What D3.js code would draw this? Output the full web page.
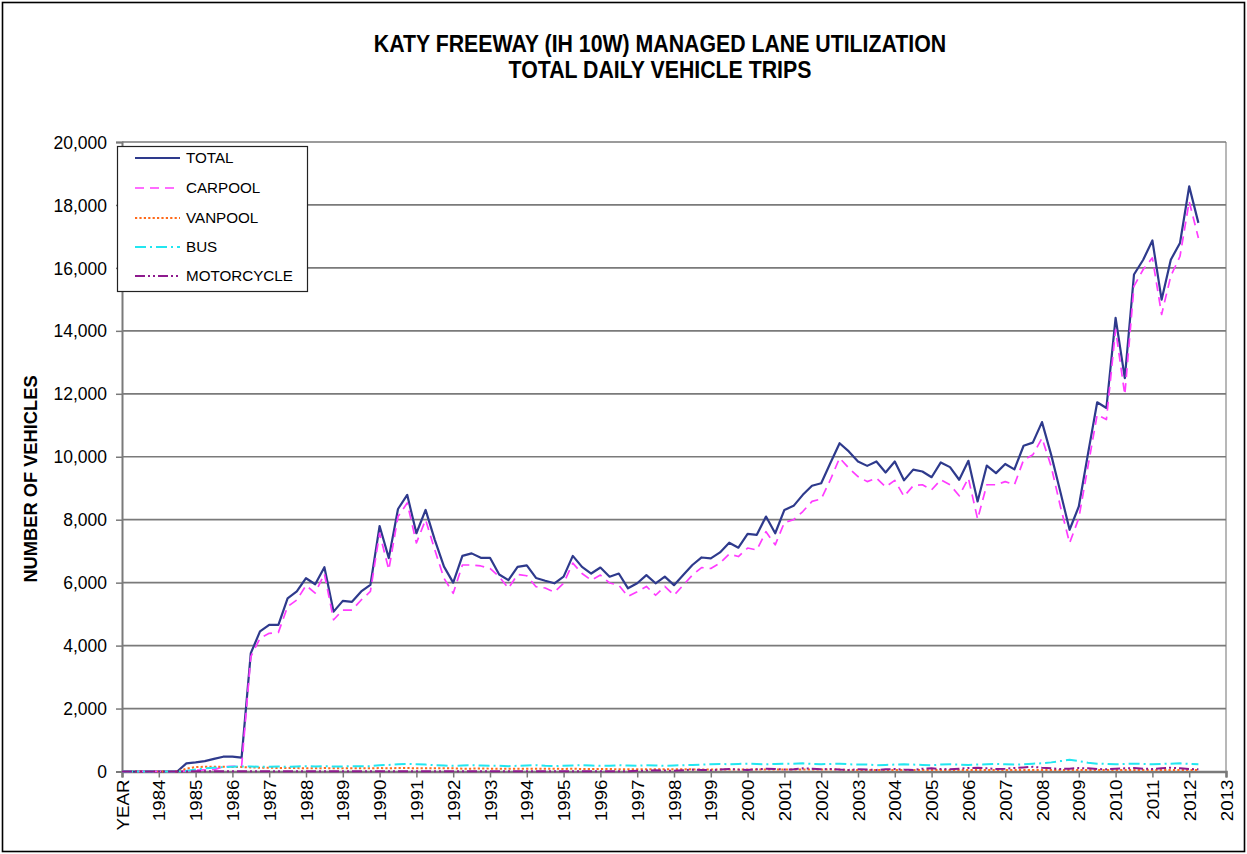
<!DOCTYPE html>
<html><head><meta charset="utf-8">
<script src="https://cdn.jsdelivr.net/npm/d3@7"></script>
<style>body{margin:0;background:#fff}svg{display:block}text{font-family:Arial,"Liberation Sans",sans-serif}</style>
</head><body>
<script>
const yearLabels = ["YEAR","1984","1985","1986","1987","1988","1989","1990","1991","1992","1993","1994","1995","1996","1997","1998","1999","2000","2001","2002","2003","2004","2005","2006","2007","2008","2009","2010","2011","2012","2013"];
const quartersPerLabel = 4;
const yTicks = [0,2000,4000,6000,8000,10000,12000,14000,16000,18000,20000];

const total = [0,0,0,0,0,0,0,260,290,330,400,470,470,440,
3760,4450,4660,4660,5500,5720,6140,5950,6490,5080,5420,5390,5720,5930,
7800,6780,8340,8790,7570,8310,7360,6510,6000,6850,6930,6790,6790,
6260,6080,6500,6550,6150,6060,5980,6190,6850,6500,6290,6480,6190,6290,5820,5980,6240,5980,6190,5920,
6240,6560,6800,6770,6960,7270,7110,7550,7520,8100,7570,8310,8440,8790,9080,9160,9800,10430,10170,9850,
9710,9850,9500,9850,9250,9590,9530,9350,9820,9670,9270,9870,8580,9720,9480,9770,9600,10350,10450,11100,
10060,8880,7680,8420,10100,11730,11550,14410,12500,15790,16260,16870,14990,16260,16790,18590,17430];

const carpool = [0,0,0,0,0,0,0,20,40,50,60,150,160,160,
3650,4230,4390,4420,5240,5450,5910,5670,6280,4820,5130,5130,5450,5720,
7570,6410,8100,8530,7260,8000,7040,6140,5660,6560,6560,6530,6450,
6190,5820,6260,6220,5870,5830,5700,5980,6620,6290,6080,6240,5990,5920,5560,5710,5880,5600,5880,5600,
5920,6240,6480,6450,6620,6910,6830,7100,7040,7620,7200,7910,8000,8260,8580,8660,9270,9960,9640,9370,
9210,9320,9040,9250,8740,9080,9110,8950,9270,9110,8760,9320,8020,9110,9110,9210,9110,9900,10060,10590,
9690,8420,7260,8050,9700,11340,11180,14040,11970,15420,15950,16320,14520,15740,16370,18110,16950];

const vanpool = [0,0,0,0,0,0,0,90,140,150,150,150,140,140,
130,120,120,110,110,110,100,100,110,100,100,100,100,100,
110,100,110,110,100,100,100,100,100,90,90,100,90,
90,90,90,90,90,90,90,80,90,80,80,80,80,70,70,70,70,70,70,70,
70,70,60,60,60,60,60,60,60,60,60,60,60,60,60,60,60,60,50,50,
50,50,50,50,50,50,50,50,50,50,50,50,50,50,50,50,50,50,50,50,
50,50,50,50,50,50,50,50,50,50,50,50,50,50,50,50,50];

const bus = [0,0,0,0,0,0,0,20,60,100,120,140,150,160,
160,150,150,160,150,160,170,160,170,160,160,170,170,170,
200,210,230,240,230,220,200,190,180,190,200,190,180,
180,170,180,190,200,180,170,180,190,200,190,180,180,200,190,180,200,190,180,190,
200,210,220,230,240,230,240,250,240,230,240,250,250,260,240,230,240,250,230,220,
220,200,210,220,230,220,210,200,220,230,220,210,220,230,240,230,220,230,250,260,
290,330,370,330,280,250,240,230,240,250,240,230,240,250,260,240,230];

const motorcycle = [0,0,0,0,0,0,0,
0,10,10,10,10,10,10,10,10,10,10,10,10,10,10,10,10,10,10,10,10,
10,10,10,10,10,10,10,10,10,10,10,10,10,10,10,10,10,10,10,10,10,10,10,10,10,10,10,10,
20,30,40,30,20,40,60,50,40,60,80,60,50,70,90,80,60,70,100,90,70,80,60,50,70,
60,50,70,80,60,50,90,100,80,70,90,110,120,100,80,90,110,130,150,120,100,80,90,110,100,80,70,90,100,110,90,80,100,120,100,80,70];

const seriesNames = ["TOTAL","CARPOOL","VANPOOL","BUS","MOTORCYCLE"];
const seriesData = [total, carpool, vanpool, bus, motorcycle];
const seriesColors = ["#2E3A8C","#FF3CFF","#FF6A1A","#22E6F0","#8E1A8E"];
const seriesDash = [null,"9,6","2.2,2.2","11,4,2,4","10,3,2,3,2,3"];
const seriesWidth = [2.2,1.7,2,2,2];

const W = 1247, H = 854;
const svg = d3.select("body").append("svg").attr("width",W).attr("height",H);
svg.append("rect").attr("x",2.5).attr("y",2.5).attr("width",W-5).attr("height",H-5)
  .attr("fill","#fff").attr("stroke","#000").attr("stroke-width",1.6);

const X0 = 122, X1 = 1226, Y0 = 142, Y1 = 771.5;
const nCat = (yearLabels.length-1)*quartersPerLabel;
const x = d3.scaleLinear().domain([0,nCat]).range([X0,X1]);
const y = d3.scaleLinear().domain([0,20000]).range([Y1,Y0]);

svg.append("rect").attr("x",X0).attr("y",Y0).attr("width",X1-X0).attr("height",Y1-Y0).attr("fill","#fff");
svg.append("line").attr("x1",X1).attr("x2",X1).attr("y1",Y0).attr("y2",Y1).attr("stroke","#b8b8b8").attr("stroke-width",2);

svg.append("g").selectAll("line").data(yTicks.filter(d=>d>0)).join("line")
  .attr("x1",X0).attr("x2",X1).attr("y1",d=>y(d)).attr("y2",d=>y(d))
  .attr("stroke","#7a7a7a").attr("stroke-width",1.7);

const yAxis = d3.axisLeft(y).tickValues(yTicks).tickSize(6).tickPadding(9).tickFormat(d3.format(","));
const gy = svg.append("g").attr("transform",`translate(${X0},0)`).call(yAxis);
gy.select(".domain").attr("stroke","#7a7a7a").attr("stroke-width",2);
gy.selectAll(".tick line").attr("stroke","#7a7a7a").attr("stroke-width",1.5);
gy.selectAll(".tick text").attr("font-size",17.5).attr("fill","#000").attr("dy","0.35em");

const xTickVals = yearLabels.map((d,i)=>i*quartersPerLabel);
const xAxis = d3.axisBottom(x).tickValues(xTickVals).tickSize(6).tickFormat((d,i)=>yearLabels[i]);
const gx = svg.append("g").attr("transform",`translate(0,${Y1})`).call(xAxis);
gx.select(".domain").attr("stroke","#7a7a7a").attr("stroke-width",2.5);
gx.selectAll(".tick line").attr("stroke","#7a7a7a").attr("stroke-width",1.5);
gx.selectAll(".tick text").attr("font-size",16).attr("fill","#000")
  .attr("text-anchor","end").attr("dy",null).attr("y",null)
  .attr("transform","translate(6,8) rotate(-90) scale(1.17,1)");

const line = d3.line().x((d,i)=>x(i)).y(d=>y(d));
seriesData.forEach((s,k)=>{
  svg.append("path").datum(s).attr("d",line).attr("fill","none")
    .attr("stroke",seriesColors[k]).attr("stroke-width",seriesWidth[k])
    .attr("stroke-dasharray",seriesDash[k]).attr("stroke-linejoin","round");
});

svg.append("text").attr("transform","translate(660,52) scale(1,1.1)").attr("text-anchor","middle")
  .attr("font-size",21.3).attr("font-weight","bold").text("KATY FREEWAY (IH 10W) MANAGED LANE UTILIZATION");
svg.append("text").attr("transform","translate(660,78) scale(1,1.1)").attr("text-anchor","middle")
  .attr("font-size",21.3).attr("font-weight","bold").text("TOTAL DAILY VEHICLE TRIPS");
svg.append("text").attr("transform","translate(37,479) rotate(-90)").attr("text-anchor","middle")
  .attr("font-size",18.3).attr("font-weight","bold").text("NUMBER OF VEHICLES");

const lg = svg.append("g");
lg.append("rect").attr("x",117.5).attr("y",146.5).attr("width",190).attr("height",145)
  .attr("fill","#fff").attr("stroke","#222").attr("stroke-width",1.2);
const rowY = [158,188,218,247,276];
seriesNames.forEach((n,k)=>{
  lg.append("line").attr("x1",135).attr("x2",180).attr("y1",rowY[k]).attr("y2",rowY[k])
    .attr("stroke",seriesColors[k]).attr("stroke-width",seriesWidth[k]).attr("stroke-dasharray",seriesDash[k]);
  lg.append("text").attr("x",186).attr("y",rowY[k]).attr("dy","0.36em").attr("font-size",15.2).text(n);
});
</script>
</body></html>
